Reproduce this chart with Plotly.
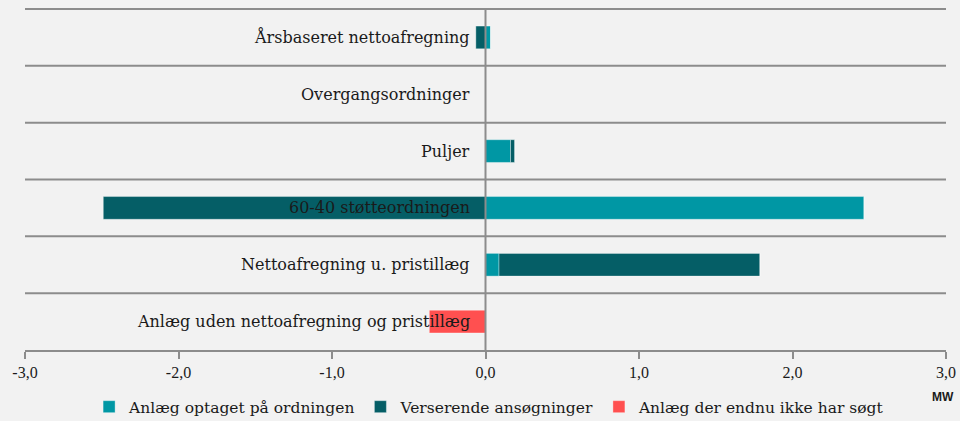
import plotly.graph_objects as go

categories = [
    "Årsbaseret nettoafregning",
    "Overgangsordninger",
    "Puljer",
    "60-40 støtteordningen",
    "Nettoafregning u. pristillæg",
    "Anlæg uden nettoafregning og pristillæg",
]
optaget = [0.033, 0.0, 0.163, 2.466, 0.088, 0.0]
verserende = [-0.063, 0.0, 0.028, -2.49, 1.70, 0.0]
ikke_soegt = [0.0, 0.0, 0.0, 0.0, 0.0, -0.366]

series_names = ["Anlæg optaget på ordningen", "Verserende ansøgninger", "Anlæg der endnu ikke har søgt"]
colors = ["#0097a4", "#055e66", "#ff5050"]

tick_vals = [-3, -2, -1, 0, 1, 2, 3]
tick_text = ["-3,0", "-2,0", "-1,0", "0,0", "1,0", "2,0", "3,0"]

SERIF = "DejaVu Serif"
TICKSERIF = "Liberation Serif"
GRID = "#8c8c8c"

fig = go.Figure()
for name, vals, col in zip(series_names, [optaget, verserende, ikke_soegt], colors):
    fig.add_trace(go.Bar(
        y=categories, x=vals, name=name, orientation="h",
        marker=dict(color=col, line=dict(color="rgba(255,255,255,0.35)", width=1)),
        width=0.4,
    ))

shapes = []
n = len(categories)
for k in range(n):
    shapes.append(dict(type="line", xref="paper", yref="y", x0=0, x1=1,
                       y0=k - 0.5, y1=k - 0.5, line=dict(color=GRID, width=2), layer="below"))
shapes.append(dict(type="line", xref="x", yref="paper", x0=0, x1=0, y0=0, y1=1,
                   line=dict(color=GRID, width=2), layer="above"))

annotations = []
for c in categories:
    annotations.append(dict(x=0, y=c, xref="x", yref="y", text=c, showarrow=False,
                            xanchor="right", yanchor="middle", xshift=-14,
                            font=dict(family=SERIF, size=16, color="#1a1a1a")))
annotations.append(dict(x=1.0, y=-0.138, xref="paper", yref="paper", text="<b>MW</b>",
                        showarrow=False, xanchor="right", yanchor="middle", xshift=10,
                        font=dict(family="Liberation Sans", size=12, color="#1a1a1a")))

fig.update_layout(
    width=960, height=421,
    paper_bgcolor="#f2f2f2", plot_bgcolor="#f2f2f2",
    barmode="relative",
    margin=dict(l=25, r=14, t=8, b=71, autoexpand=False),
    showlegend=True,
    legend=dict(orientation="h", xref="container", yref="container",
                x=0.51, xanchor="center", y=0.033, yanchor="middle",
                font=dict(family=SERIF, size=15.5, color="#1a1a1a"),
                bgcolor="rgba(0,0,0,0)", itemwidth=30, tracegroupgap=0),
    xaxis=dict(range=[-3, 3], tickvals=tick_vals, ticktext=tick_text, showgrid=False,
               zeroline=False, showline=True, linecolor=GRID, linewidth=2,
               ticks="outside", ticklen=7, tickcolor=GRID, tickwidth=2, automargin=False,
               tickfont=dict(family=TICKSERIF, size=16, color="#1a1a1a")),
    yaxis=dict(categoryorder="array", categoryarray=categories, autorange="reversed",
               showticklabels=False, showgrid=False, zeroline=False, ticks="", automargin=False),
    shapes=shapes,
    annotations=annotations,
)

fig.write_html("out.html", config={"displayModeBar": False},
               post_script="document.body.style.margin='0';document.body.style.background='#f2f2f2';")
